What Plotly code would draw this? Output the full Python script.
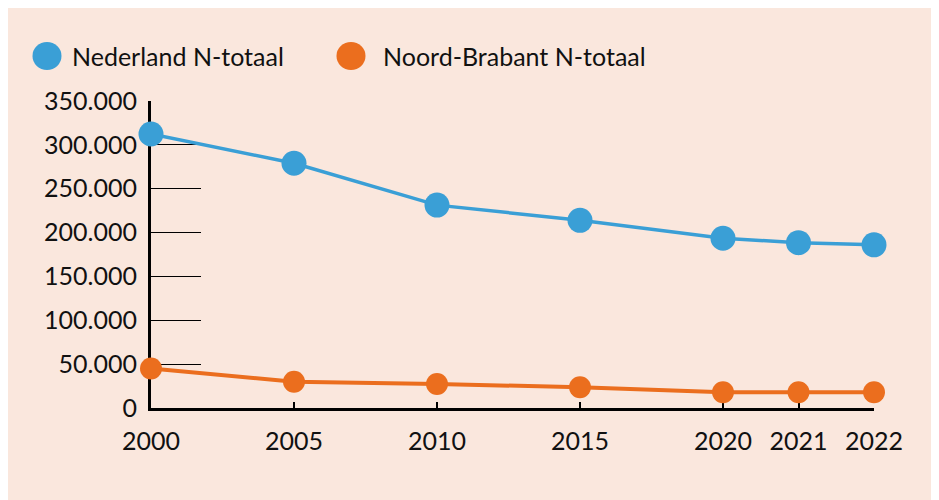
import plotly.graph_objects as go

# data
years = [2000, 2005, 2010, 2015, 2020, 2021, 2022]
nederland = [312400, 279000, 231300, 214000, 193500, 188500, 186000]
brabant = [45000, 30000, 27400, 23600, 17900, 17900, 18000]
y_ticks = [0, 50000, 100000, 150000, 200000, 250000, 300000, 350000]

blue = "rgb(58,159,214)"
orange = "rgb(235,110,30)"
bg = "rgb(250,231,221)"
font = "Lato"

# the x scale is linear up to 2020 and stretched after that
def xscale(y):
    return (y - 2000) if y <= 2020 else 20 + (y - 2020) * 2.64

xs = [xscale(y) for y in years]

# page sits 8px in from the top left (body margin)
OFF = 8
W, H = 939, 500
L, R, T, B = 151 - OFF, 939 - 874 + OFF, 101 - OFF, 500 - 408 + OFF
pw, ph = W - L - R, H - T - B

# page pixel -> paper coords
def px(x):
    return (x - OFF - L) / pw

def py(y):
    return (H - B - (y - OFF)) / ph

fig = go.Figure()
fig.add_trace(go.Scatter(x=xs, y=nederland, mode="lines+markers", name="Nederland N-totaal",
                         line=dict(color=blue, width=3.5), marker=dict(size=25, color=blue),
                         cliponaxis=False, showlegend=False))
fig.add_trace(go.Scatter(x=xs, y=brabant, mode="lines+markers", name="Noord-Brabant N-totaal",
                         line=dict(color=orange, width=4), marker=dict(size=22, color=orange),
                         cliponaxis=False, showlegend=False))
# empty trace only to carry the short tick lines axis
fig.add_trace(go.Scatter(x=[None], y=[None], yaxis="y2", showlegend=False, hoverinfo="skip"))

# legend drawn by hand (big circles)
legend_items = [("Nederland N-totaal", blue, 47, 70), ("Noord-Brabant N-totaal", orange, 351, 381)]
for label, col, cx, tx in legend_items:
    fig.add_shape(type="circle", xref="paper", yref="paper", xsizemode="pixel", ysizemode="pixel",
                  xanchor=px(cx), yanchor=py(56), x0=-14.5, x1=14.5, y0=-14, y1=14,
                  fillcolor=col, line_width=0)
    fig.add_annotation(text=label, xref="paper", yref="paper", x=px(tx), y=py(56),
                       xanchor="left", yanchor="middle", showarrow=False,
                       font=dict(size=25, color="#111", family=font))

fig.update_layout(
    width=W, height=H,
    margin=dict(l=L, r=R, t=T, b=B, pad=0),
    paper_bgcolor=bg, plot_bgcolor=bg,
    separators=",.",
    font=dict(family=font, size=25, color="#111"),
    xaxis=dict(range=[0, xscale(2022)], tickvals=xs, ticktext=[str(y) for y in years],
               ticks="inside", ticklen=6, tickwidth=2, tickcolor="black",
               showline=True, linewidth=3, linecolor="black", showgrid=False, zeroline=False,
               ticklabelstandoff=9, layer="below traces"),
    yaxis=dict(range=[0, 350000], tickvals=y_ticks, tickformat=",d", ticks="",
               showline=True, linewidth=3, linecolor="black", showgrid=False, zeroline=False,
               ticklabelstandoff=6, layer="below traces"),
    yaxis2=dict(range=[0, 350000], overlaying="y", side="left", tickvals=y_ticks[1:-1],
                ticks="inside", ticklen=50, tickwidth=1, tickcolor="black",
                showticklabels=False, showline=False, showgrid=False, zeroline=False,
                layer="below traces"),
)

fig.write_html("out.html")
